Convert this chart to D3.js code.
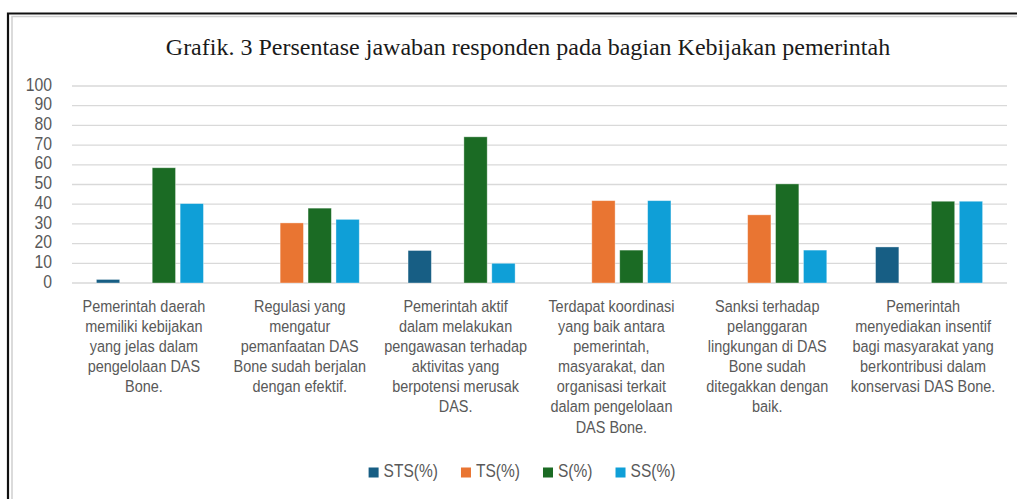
<!DOCTYPE html>
<html>
<head>
<meta charset="utf-8">
<script src="https://cdn.jsdelivr.net/npm/d3@7"></script>
<style>
  body { margin: 0; background: #fff; }
  text { font-family: "Liberation Sans", Arial, sans-serif; fill: #595959; }
  .title { font-family: "Liberation Serif", "Times New Roman", serif; fill: #1a1a1a; }
</style>
</head>
<body>
<div id="chart"></div>
<script>
// categories (line breaks as in the picture)
var categories = [
    "Pemerintah daerah\nmemiliki kebijakan\nyang jelas dalam\npengelolaan DAS\nBone.",
    "Regulasi yang\nmengatur\npemanfaatan DAS\nBone sudah berjalan\ndengan efektif.",
    "Pemerintah aktif\ndalam melakukan\npengawasan terhadap\naktivitas yang\nberpotensi merusak\nDAS.",
    "Terdapat koordinasi\nyang baik antara\npemerintah,\nmasyarakat, dan\norganisasi terkait\ndalam pengelolaan\nDAS Bone.",
    "Sanksi terhadap\npelanggaran\nlingkungan di DAS\nBone sudah\nditegakkan dengan\nbaik.",
    "Pemerintah\nmenyediakan insentif\nbagi masyarakat yang\nberkontribusi dalam\nkonservasi DAS Bone."
];
var seriesNames = ["STS(%)", "TS(%)", "S(%)", "SS(%)"];
var sts = [1.8, 0, 16.5, 0, 0, 18.3];
var ts  = [0, 30.5, 0, 41.8, 34.6, 0];
var s   = [58.5, 38, 74.2, 16.7, 50.3, 41.5];
var ss  = [40.3, 32.3, 10, 41.8, 16.7, 41.5];
var yTicks = [0, 10, 20, 30, 40, 50, 60, 70, 80, 90, 100];
var titleText = "Grafik. 3 Persentase jawaban responden pada bagian Kebijakan pemerintah";

var colors = ["#175e84", "#e97532", "#1b6b24", "#0f9fd7"];
var values = [sts, ts, s, ss];

var width = 1017, height = 499;
var plotLeft = 72, plotRight = 1007, plotTop = 86, plotBottom = 283;
var sx = 0.85;

var svg = d3.select("#chart").append("svg")
    .attr("width", width)
    .attr("height", height);

svg.append("rect").attr("width", width).attr("height", height).attr("fill", "#fff");

// frame
svg.append("path")
    .attr("d", "M12,499 V16.5 H1017")
    .attr("fill", "none").attr("stroke", "#d0d0d0").attr("stroke-width", 1.5);
svg.append("path")
    .attr("d", "M8,499 V13.5 H1017")
    .attr("fill", "none").attr("stroke", "#111").attr("stroke-width", 2.2);

svg.append("text")
    .attr("class", "title")
    .attr("x", 528).attr("y", 55)
    .attr("text-anchor", "middle")
    .style("font-size", "24px")
    .text(titleText);

var y = d3.scaleLinear().domain([0, 100]).range([plotBottom, plotTop]);

var x0 = d3.scaleBand()
    .domain(d3.range(categories.length))
    .range([plotLeft, plotRight])
    .paddingInner(0.313)
    .paddingOuter(0.1565);

var x1 = d3.scaleBand()
    .domain(d3.range(seriesNames.length))
    .range([0, x0.bandwidth()])
    .paddingInner(0.165);

// grid
svg.append("g").selectAll("line")
    .data(yTicks)
    .enter().append("line")
    .attr("x1", plotLeft).attr("x2", plotRight)
    .attr("y1", function(d) { return y(d); })
    .attr("y2", function(d) { return y(d); })
    .attr("stroke", "#d9d9d9")
    .attr("stroke-width", 1.3);

svg.append("g").selectAll("text")
    .data(yTicks)
    .enter().append("text")
    .attr("text-anchor", "end")
    .attr("transform", function(d) { return "translate(52," + (y(d) + 4.6) + ") scale(0.83,1)"; })
    .style("font-size", "19px")
    .text(function(d) { return d; });

// bars
var groups = svg.append("g").selectAll("g")
    .data(categories)
    .enter().append("g")
    .attr("transform", function(d, i) { return "translate(" + x0(i) + ",0)"; });

groups.selectAll("rect")
    .data(function(d, i) { return values.map(function(v, k) { return { k: k, v: v[i] }; }).filter(function(d) { return d.v > 0; }); })
    .enter().append("rect")
    .attr("x", function(d) { return x1(d.k); })
    .attr("width", x1.bandwidth())
    .attr("y", function(d) { return y(d.v); })
    .attr("height", function(d) { return y(0) - y(d.v); })
    .attr("fill", function(d) { return colors[d.k]; })
    .attr("stroke", "#ffffff")
    .attr("stroke-opacity", 0.45)
    .attr("stroke-width", 0.8);

// category labels
var labels = svg.append("g").selectAll("text")
    .data(categories)
    .enter().append("text")
    .attr("text-anchor", "middle")
    .attr("transform", function(d, i) { return "translate(" + (x0(i) + x0.bandwidth() / 2 - 6) + ",311.5) scale(" + sx + ",1)"; })
    .style("font-size", "17px");

labels.selectAll("tspan")
    .data(function(d) { return d.split("\n"); })
    .enter().append("tspan")
    .attr("x", 0)
    .attr("dy", function(d, i) { return i ? 20.2 : 0; })
    .text(function(d) { return d; });

// legend
var legend = svg.append("g");
var lx = 0;
seriesNames.forEach(function(name, k) {
    var g = legend.append("g").attr("transform", "translate(" + lx + ",0)");
    g.append("rect")
        .attr("x", 0).attr("y", 467.5)
        .attr("width", 10).attr("height", 10)
        .attr("fill", colors[k]);
    var t = g.append("text")
        .attr("transform", "translate(15,476.7) scale(0.84,1)")
        .style("font-size", "18.5px")
        .text(name);
    lx += 15 + t.node().getComputedTextLength() * 0.84 + 23;
});
var legendWidth = lx - 23;
legend.attr("transform", "translate(" + (522 - legendWidth / 2) + ",0)");
</script>
</body>
</html>
